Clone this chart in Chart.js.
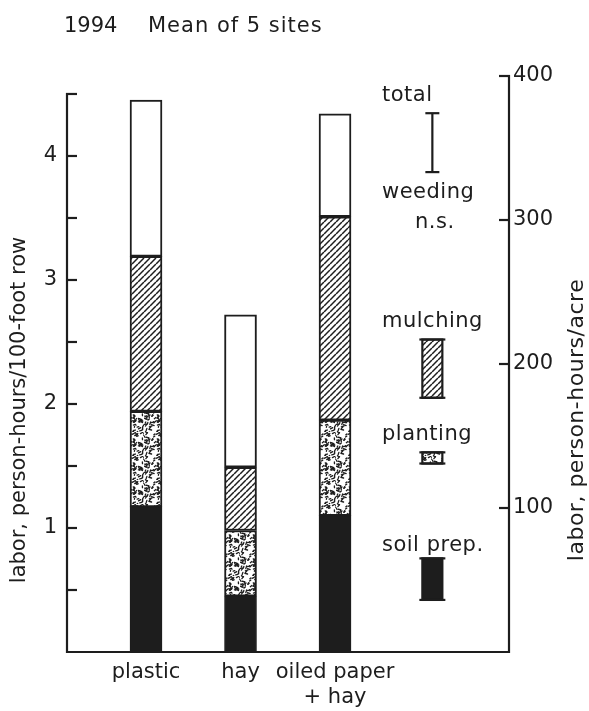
<!DOCTYPE html>
<html>
<head>
<meta charset="utf-8">
<script src="https://cdn.jsdelivr.net/npm/chart.js@4.4.1/dist/chart.umd.min.js"></script>
<style>
  html, body { margin: 0; padding: 0; background: #fff; }
  #wrap { width: 589px; height: 711px; }
</style>
</head>
<body>
<div id="wrap"><canvas id="chart" width="589" height="711"></canvas></div>
<script>
// --- data (left axis units: person-hours / 100-foot row) ---
const categories = [['plastic'], ['hay'], ['oiled paper', '+ hay']];
const soilPrep = [1.17, 0.45, 1.10];
const planting = [0.77, 0.53, 0.77];
const mulching = [1.25, 0.51, 1.64];
const weeding  = [1.26, 1.23, 0.83];

// LSD markers drawn to the right of the bars
const lsdLabels = ['total', 'mulching', 'planting', 'soil prep.'];
const lsdLow    = [3.87, 2.05, 1.52, 0.42];
const lsdHigh   = [4.345, 2.52, 1.61, 0.755];
const weedingNote = ['weeding', 'n.s.'];

const leftTickMarks  = [0.5, 1, 1.5, 2, 2.5, 3, 3.5, 4, 4.5];
const leftTickLabels = [1, 2, 3, 4];
const rightTickLabels = [100, 200, 300, 400];

const titleYear = '1994';
const titleText = 'Mean of 5 sites';
const leftTitle = 'labor, person-hours/100-foot row';
const rightTitle = 'labor, person-hours/acre';

const INK = '#1d1d1d';
const FONT = '"DejaVu Sans", sans-serif';

// hatch pattern ( / lines )
function makeHatch() {
  const c = document.createElement('canvas');
  c.width = 6; c.height = 6;
  const g = c.getContext('2d');
  g.fillStyle = '#fff'; g.fillRect(0, 0, 6, 6);
  g.strokeStyle = INK; g.lineWidth = 1.5;
  for (let k = -6; k <= 12; k += 6) {
    g.beginPath(); g.moveTo(k, 6); g.lineTo(k + 6, 0); g.stroke();
  }
  return g.createPattern(c, 'repeat');
}

// stipple texture (fixed pseudo pattern, not data)
function makeStipple() {
  const c = document.createElement('canvas');
  c.width = 24; c.height = 24;
  const g = c.getContext('2d');
  g.fillStyle = '#fff'; g.fillRect(0, 0, 24, 24);
  g.strokeStyle = INK; g.lineWidth = 1.3; g.lineCap = 'round';
  let s = 7;
  const next = () => { s = (s * 1103515245 + 12345) % 2147483648; return s / 2147483648; };
  for (let i = 0; i < 75; i++) {
    const px = next() * 24, py = next() * 24, a = next() * Math.PI, l = 0.8 + next() * 2.4;
    g.beginPath();
    g.moveTo(px, py);
    g.lineTo(px + Math.cos(a) * l, py + Math.sin(a) * l);
    g.stroke();
  }
  return g.createPattern(c, 'repeat');
}

const hatch = makeHatch();
const stipple = makeStipple();
const fills = { soil: INK, planting: stipple, mulching: hatch, weeding: '#fff' };

const toPoints = arr => arr.map((v, i) => ({ x: i + 1, y: v }));

const lsdX = 4.03;

function line(ctx, xa, ya, xb, yb) {
  ctx.beginPath(); ctx.moveTo(xa, ya); ctx.lineTo(xb, yb); ctx.stroke();
}

const inkPlugin = {
  id: 'ink',
  afterDatasetsDraw(chart) {
    const ctx = chart.ctx;
    const xs = chart.scales.x, ys = chart.scales.y, y2 = chart.scales.y2;
    const x0 = xs.left, x1 = xs.right, yb = ys.getPixelForValue(0);
    ctx.save();
    ctx.strokeStyle = INK;
    ctx.lineWidth = 2.2;
    ctx.lineCap = 'square';
    // axes frame
    ctx.beginPath();
    ctx.moveTo(x0, ys.getPixelForValue(4.5));
    ctx.lineTo(x0, yb);
    ctx.lineTo(x1, yb);
    ctx.lineTo(x1, y2.getPixelForValue(400));
    ctx.stroke();
    ctx.lineCap = 'butt';
    leftTickMarks.forEach(v => { const p = ys.getPixelForValue(v); line(ctx, x0 - 1, p, x0 + 10, p); });
    rightTickLabels.forEach(v => { const p = y2.getPixelForValue(v); line(ctx, x1 - 10, p, x1 + 1, p); });

    // LSD markers
    const cx = xs.getPixelForValue(lsdX);
    const markFill = [null, fills.mulching, fills.planting, fills.soil];
    lsdLabels.forEach((lab, i) => {
      const top = ys.getPixelForValue(lsdHigh[i]);
      const bot = ys.getPixelForValue(lsdLow[i]);
      ctx.lineWidth = 2.2;
      if (markFill[i] === null) {
        line(ctx, cx, top, cx, bot);
        line(ctx, cx - 7, top, cx + 7, top);
        line(ctx, cx - 7, bot, cx + 7, bot);
      } else {
        ctx.fillStyle = markFill[i];
        ctx.fillRect(cx - 10, top, 20, bot - top);
        ctx.strokeRect(cx - 10, top, 20, bot - top);
        line(ctx, cx - 13, top, cx + 13, top);
        line(ctx, cx - 13, bot, cx + 13, bot);
      }
      ctx.fillStyle = INK;
      ctx.font = '21px ' + FONT;
      ctx.letterSpacing = '0.5px';
      ctx.textAlign = 'left';
      ctx.textBaseline = 'middle';
      ctx.fillText(lab, 382, top - (i === 3 ? 13 : 18));
      if (i === 0) {
        ctx.fillText(weedingNote[0], 382, bot + 20);
        ctx.fillText(weedingNote[1], 415, bot + 50);
      }
    });
    ctx.restore();
  },
  afterDraw(chart) {
    const ctx = chart.ctx;
    ctx.save();
    ctx.fillStyle = INK;
    ctx.font = '21px ' + FONT;
    ctx.textBaseline = 'middle';
    ctx.textAlign = 'left';
    ctx.fillText(titleYear, 64, 27);
    ctx.letterSpacing = '1px';
    ctx.fillText(titleText, 148, 27);
    ctx.letterSpacing = '0px';
    ctx.textAlign = 'center';
    ctx.translate(20, 410);
    ctx.rotate(-Math.PI / 2);
    ctx.fillText(leftTitle, 0, 0);
    ctx.restore();
    ctx.save();
    ctx.fillStyle = INK;
    ctx.font = '22px ' + FONT;
    ctx.letterSpacing = '0.5px';
    ctx.textBaseline = 'middle';
    ctx.textAlign = 'center';
    ctx.translate(577, 420);
    ctx.rotate(-Math.PI / 2);
    ctx.fillText(rightTitle, 0, 0);
    ctx.restore();
  }
};

const seg = (label, data, fill, bw) => ({
  label,
  data: toPoints(data),
  backgroundColor: fill,
  borderColor: INK,
  borderWidth: bw,
  borderSkipped: false,
  barThickness: 32
});

const tickFont = { family: FONT, size: 21 };

new Chart(document.getElementById('chart'), {
  type: 'bar',
  data: {
    datasets: [
      seg('soil prep.', soilPrep, fills.soil, 1),
      seg('planting', planting, fills.planting, 2),
      seg('mulching', mulching, fills.mulching, 2),
      seg('weeding', weeding, fills.weeding, 2)
    ]
  },
  options: {
    responsive: false,
    animation: false,
    layout: { padding: { top: 76, bottom: 0, left: 0, right: 0 } },
    plugins: { legend: { display: false }, tooltip: { enabled: false } },
    scales: {
      x: {
        type: 'linear',
        stacked: true,
        offset: false,
        min: 0.164,
        max: 4.841,
        grid: { display: false, drawTicks: false },
        border: { display: false },
        afterBuildTicks: s => { s.ticks = categories.map((c, i) => ({ value: i + 1 })); },
        afterFit: s => { s.height = 59; },
        ticks: {
          color: INK,
          font: tickFont,
          padding: 8,
          maxRotation: 0,
          autoSkip: false,
          callback: v => categories[v - 1]
        }
      },
      y: {
        position: 'left',
        stacked: true,
        min: 0,
        max: 4.645,
        grid: { display: false, drawTicks: false },
        border: { display: false },
        afterBuildTicks: s => { s.ticks = leftTickLabels.map(v => ({ value: v })); },
        afterFit: s => { s.width = 67; },
        ticks: { color: INK, font: tickFont, padding: 10, callback: v => String(v) }
      },
      y2: {
        position: 'right',
        min: 0,
        max: 400,
        grid: { display: false, drawTicks: false },
        border: { display: false },
        afterBuildTicks: s => { s.ticks = rightTickLabels.map(v => ({ value: v })); },
        afterFit: s => { s.width = 80; },
        ticks: { color: INK, font: tickFont, padding: 4, callback: v => String(v) }
      }
    }
  },
  plugins: [inkPlugin]
});
</script>
</body>
</html>
